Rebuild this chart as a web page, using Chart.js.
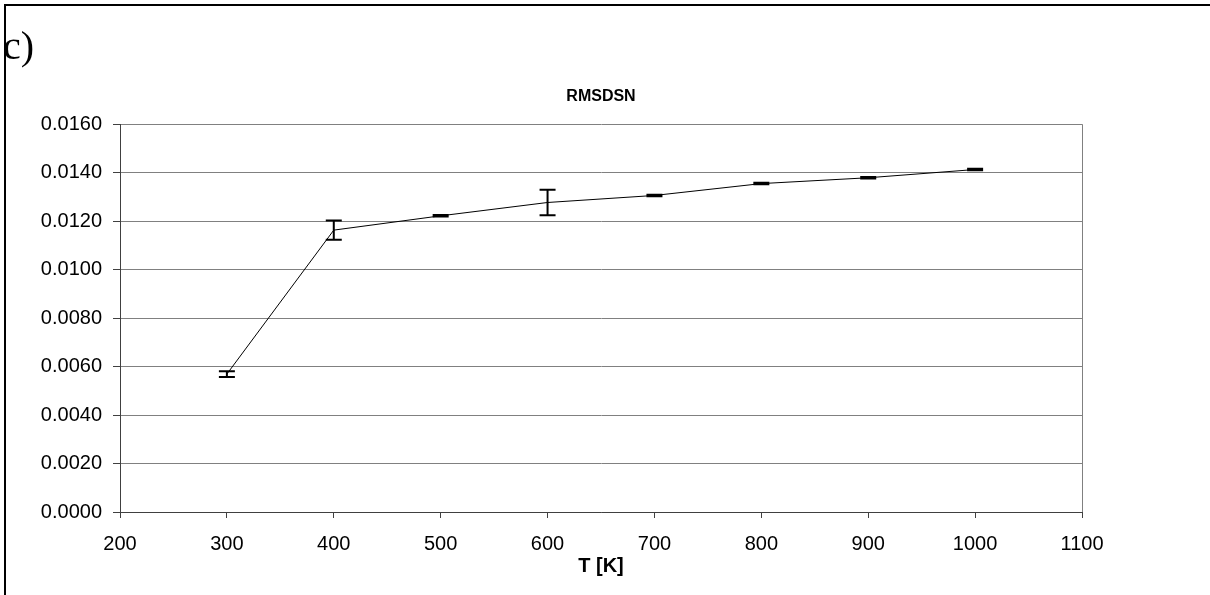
<!DOCTYPE html>
<html>
<head>
<meta charset="utf-8">
<script src="https://cdn.jsdelivr.net/npm/chart.js@4.4.1/dist/chart.umd.min.js"></script>
<style>
  html, body { margin: 0; padding: 0; background: #fff; }
  #wrap { position: relative; width: 1210px; height: 595px; overflow: hidden; background: #fff; }
  #frame { position: absolute; left: 4px; top: 4px; width: 1210px; height: 600px;
           border-top: 2px solid #000; border-left: 2px solid #000; box-sizing: border-box; pointer-events: none; }
  #label { position: absolute; left: 3px; top: 26px; font-family: "Liberation Serif", "Times New Roman", serif;
           font-size: 40px; line-height: 1; color: #000; }
  canvas { position: absolute; left: 0; top: 0; }
</style>
</head>
<body>
<div id="wrap">
  <canvas id="c" width="1210" height="595"></canvas>
  <div id="label">c)</div>
  <div id="frame"></div>
</div>
<script>
const temperatures = [300, 400, 500, 600, 700, 800, 900, 1000];
const rmsdsn       = [0.00569, 0.01163, 0.01222, 0.01277, 0.01306, 0.01355, 0.01379, 0.01413];
const rmsdsnError  = [0.00012, 0.00040, 0.00003, 0.00053, 0.00003, 0.00003, 0.00003, 0.00003];
const xTickRange   = [200, 1100, 100];
const yTickRange   = [0, 0.016, 0.002];
const chartTitle   = "RMSDSN";
const xAxisTitle   = "T [K]";

const points = temperatures.map((t, i) => ({ x: t, y: rmsdsn[i] }));

const errorBars = {
  id: 'errorBars',
  afterDatasetsDraw(chart) {
    const { ctx, scales: { x, y } } = chart;
    ctx.save();
    ctx.strokeStyle = '#000';
    ctx.lineWidth = 2;
    temperatures.forEach((t, i) => {
      const px = x.getPixelForValue(t);
      const top = y.getPixelForValue(rmsdsn[i] + rmsdsnError[i]);
      const bot = y.getPixelForValue(rmsdsn[i] - rmsdsnError[i]);
      ctx.beginPath();
      ctx.moveTo(px, top); ctx.lineTo(px, bot);
      ctx.moveTo(px - 8, top); ctx.lineTo(px + 8, top);
      ctx.moveTo(px - 8, bot); ctx.lineTo(px + 8, bot);
      ctx.stroke();
    });
    ctx.restore();
  }
};

const whiteBg = {
  id: 'whiteBg',
  beforeDraw(chart) {
    const ctx = chart.ctx;
    ctx.save(); ctx.fillStyle = '#fff'; ctx.fillRect(0, 0, chart.width, chart.height); ctx.restore();
  }
};

new Chart(document.getElementById('c'), {
  type: 'line',
  data: {
    datasets: [{
      data: points,
      borderColor: '#000',
      borderWidth: 1,
      pointRadius: 0,
      pointHoverRadius: 0,
      tension: 0,
      fill: false
    }]
  },
  options: {
    responsive: false,
    devicePixelRatio: 1,
    animation: false,
    events: [],
    layout: { padding: { top: 80, right: 128, left: 0, bottom: 0 } },
    plugins: {
      legend: { display: false },
      tooltip: { enabled: false },
      title: {
        display: true,
        fullSize: false,
        text: chartTitle,
        color: '#000',
        font: { family: 'Liberation Sans, Arial, sans-serif', size: 16, weight: 'bold' },
        padding: { top: 7, bottom: 18 }
      }
    },
    scales: {
      x: {
        type: 'linear',
        min: xTickRange[0], max: xTickRange[1],
        ticks: {
          stepSize: xTickRange[2],
          color: '#000',
          padding: 14,
          maxRotation: 0,
          font: { family: 'Liberation Sans, Arial, sans-serif', size: 20 },
          callback: v => String(v)
        },
        grid: {
          drawOnChartArea: true,
          color: ctx => (ctx.tick && ctx.tick.value === xTickRange[1]) ? '#808080' : 'rgba(0,0,0,0)',
          tickColor: '#404040',
          tickLength: 6,
          lineWidth: 1
        },
        border: { display: true, color: '#404040', width: 1 },
        title: {
          display: true,
          text: xAxisTitle,
          color: '#000',
          font: { family: 'Liberation Sans, Arial, sans-serif', size: 20, weight: 'bold' },
          padding: { top: 0, bottom: 17 }
        },
        afterFit(scale) { scale.height = 83; }
      },
      y: {
        type: 'linear',
        min: yTickRange[0], max: yTickRange[1],
        ticks: {
          stepSize: yTickRange[2],
          color: '#000',
          padding: 11,
          font: { family: 'Liberation Sans, Arial, sans-serif', size: 20 },
          callback: v => Number(v).toFixed(4)
        },
        grid: {
          color: '#808080',
          tickColor: '#404040',
          tickLength: 7,
          lineWidth: 1
        },
        border: { display: true, color: '#404040', width: 1 },
        afterFit(scale) { scale.width = 120; }
      }
    }
  },
  plugins: [whiteBg, errorBars]
});
</script>
</body>
</html>
